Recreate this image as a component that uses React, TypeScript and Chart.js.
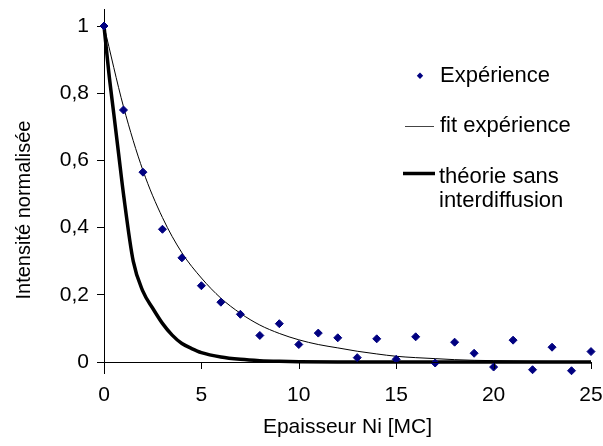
import React, { useEffect, useRef } from "react";
import { Chart, registerables } from "chart.js";

Chart.register(...registerables);

// ---- Data ----
const expX = [0, 1, 2, 3, 4, 5, 6, 7, 8, 9, 10, 11, 12, 13, 14, 15, 16, 17, 18, 19, 20, 21, 22, 23, 24, 25];
const expY = [1, 0.75, 0.565, 0.395, 0.31, 0.227, 0.178, 0.142, 0.079, 0.114, 0.052, 0.086, 0.072, 0.013, 0.069, 0.008, 0.075, -0.003, 0.059, 0.026, -0.015, 0.065, -0.023, 0.044, -0.026, 0.031];

const fitX = [0, 1, 2, 3, 4, 5, 6, 7, 8, 9, 10, 11, 12, 13, 14, 15, 16, 17, 18, 19, 20, 21, 22, 23, 24, 25];
const fitY = [1, 0.76, 0.57, 0.43, 0.325, 0.25, 0.19, 0.145, 0.11, 0.085, 0.066, 0.052, 0.042, 0.032, 0.024, 0.017, 0.013, 0.01, 0.007, 0.005, 0.004, 0.003, 0.002, 0.0015, 0.001, 0.001];

const theoryX = [0, 0.25, 0.5, 0.75, 1, 1.5, 2, 2.5, 3, 3.5, 4, 4.5, 5, 6, 7, 8, 9, 10, 12, 14, 16, 18, 20, 22, 25];
const theoryY = [1, 0.86, 0.74, 0.62, 0.5, 0.3, 0.21, 0.16, 0.115, 0.08, 0.055, 0.04, 0.028, 0.015, 0.008, 0.004, 0.002, 0.001, 0, 0, 0, 0, 0, 0, 0];

const xTicks = [0, 5, 10, 15, 20, 25];
const yTicks = [0, 0.2, 0.4, 0.6, 0.8, 1];

const seriesNames = ["Expérience", "fit expérience", "théorie sans interdiffusion"];
const theoryLegendLines = ["théorie sans", "interdiffusion"];
const xTitle = "Epaisseur Ni [MC]";
const yTitle = "Intensité normalisée";

const FONT_FAMILY = "'Liberation Sans', Arial, sans-serif";
const MARKER_COLOR = "#000080";

const decorPlugin = {
  id: "decor",
  afterDraw(chart: any) {
    const { ctx, chartArea, scales } = chart;
    const xs = scales.x;
    const ys = scales.y;
    const y0 = ys.getPixelForValue(0);
    ctx.save();
    // x axis at y = 0
    ctx.strokeStyle = "#000";
    ctx.lineWidth = 1;
    ctx.beginPath();
    ctx.moveTo(chartArea.left, Math.round(y0) + 0.5);
    ctx.lineTo(chartArea.right, Math.round(y0) + 0.5);
    xTicks.forEach((v) => {
      const px = Math.round(xs.getPixelForValue(v)) + 0.5;
      ctx.moveTo(px, Math.round(y0));
      ctx.lineTo(px, Math.round(y0) + 7);
    });
    ctx.stroke();

    // titles
    ctx.fillStyle = "#000";
    ctx.textAlign = "center";
    ctx.textBaseline = "middle";
    ctx.font = `21px ${FONT_FAMILY}`;
    ctx.fillText(xTitle, (chartArea.left + chartArea.right) / 2, 427);
    ctx.font = `20px ${FONT_FAMILY}`;
    ctx.save();
    ctx.translate(24, 210);
    ctx.rotate(-Math.PI / 2);
    ctx.fillText(yTitle, 0, 0);
    ctx.restore();

    // legend
    ctx.font = `22px ${FONT_FAMILY}`;
    ctx.textAlign = "left";
    ctx.textBaseline = "alphabetic";
    // marker
    ctx.fillStyle = MARKER_COLOR;
    ctx.beginPath();
    ctx.moveTo(420, 72.5);
    ctx.lineTo(423.2, 75.7);
    ctx.lineTo(420, 78.9);
    ctx.lineTo(416.8, 75.7);
    ctx.closePath();
    ctx.fill();
    ctx.fillStyle = "#000";
    ctx.fillText(seriesNames[0], 440, 82.3);
    // fit line
    ctx.strokeStyle = "#444";
    ctx.lineWidth = 1;
    ctx.beginPath();
    ctx.moveTo(405, 126.5);
    ctx.lineTo(434, 126.5);
    ctx.stroke();
    ctx.fillText(seriesNames[1], 440, 132.3);
    // theory line
    ctx.strokeStyle = "#000";
    ctx.lineWidth = 3.5;
    ctx.beginPath();
    ctx.moveTo(403, 173.5);
    ctx.lineTo(435, 173.5);
    ctx.stroke();
    ctx.fillText(theoryLegendLines[0], 439, 183);
    ctx.fillText(theoryLegendLines[1], 439, 206.7);
    ctx.restore();
  },
};

export default function App() {
  const canvasRef = useRef<HTMLCanvasElement | null>(null);

  useEffect(() => {
    const canvas = canvasRef.current;
    if (!canvas) return;
    const tickFont = { family: FONT_FAMILY, size: 21 };
    const chart = new Chart(canvas, {
      type: "scatter",
      data: {
        datasets: [
          {
            label: seriesNames[0],
            data: expX.map((x, i) => ({ x, y: expY[i] })),
            showLine: false,
            pointStyle: "rectRot",
            pointRadius: 4,
            pointBorderWidth: 1,
            backgroundColor: MARKER_COLOR,
            borderColor: MARKER_COLOR,
            clip: false,
          },
          {
            label: seriesNames[1],
            data: fitX.map((x, i) => ({ x, y: fitY[i] })),
            showLine: true,
            pointRadius: 0,
            borderColor: "#000",
            borderWidth: 1,
            cubicInterpolationMode: "monotone",
          },
          {
            label: seriesNames[2],
            data: theoryX.map((x, i) => ({ x, y: theoryY[i] })),
            showLine: true,
            pointRadius: 0,
            borderColor: "#000",
            borderWidth: 3.5,
            cubicInterpolationMode: "monotone",
            clip: false,
          },
        ] as any,
      },
      options: {
        animation: false,
        responsive: false,
        devicePixelRatio: 1,
        layout: { padding: { left: 44, right: 12, top: 9.2, bottom: 0 } },
        plugins: {
          legend: { display: false },
          tooltip: { enabled: false },
          title: { display: false },
        },
        scales: {
          x: {
            type: "linear",
            min: 0,
            max: 25,
            afterBuildTicks: (s: any) => {
              s.ticks = xTicks.map((v) => ({ value: v }));
            },
            afterFit: (s: any) => {
              s.height = 72.24;
              s.paddingLeft = 0;
              s.paddingRight = 0;
            },
            grid: { display: false, drawTicks: false },
            border: { display: false },
            ticks: {
              font: tickFont,
              color: "#000",
              padding: 9,
              maxRotation: 0,
              autoSkip: false,
            },
          },
          y: {
            type: "linear",
            min: -0.035,
            max: 1.05,
            afterBuildTicks: (s: any) => {
              s.ticks = yTicks.map((v) => ({ value: v }));
            },
            afterFit: (s: any) => {
              s.width = 60;
              s.paddingTop = 0;
              s.paddingBottom = 0;
            },
            grid: {
              display: true,
              drawOnChartArea: false,
              drawTicks: true,
              tickLength: 7,
              color: "#000",
            },
            border: { display: true, color: "#000", width: 1 },
            ticks: {
              font: tickFont,
              color: "#000",
              padding: 8,
              autoSkip: false,
              callback: (v: any) => String(Math.round(Number(v) * 10) / 10).replace(".", ","),
            },
          },
        },
      } as any,
      plugins: [decorPlugin],
    });
    return () => chart.destroy();
  }, []);

  return (
    <div style={{ position: "absolute", left: 0, top: 0, width: 603, height: 446, background: "#fff" }}>
      <canvas ref={canvasRef} width={603} height={446} style={{ display: "block", width: 603, height: 446 }} />
    </div>
  );
}
